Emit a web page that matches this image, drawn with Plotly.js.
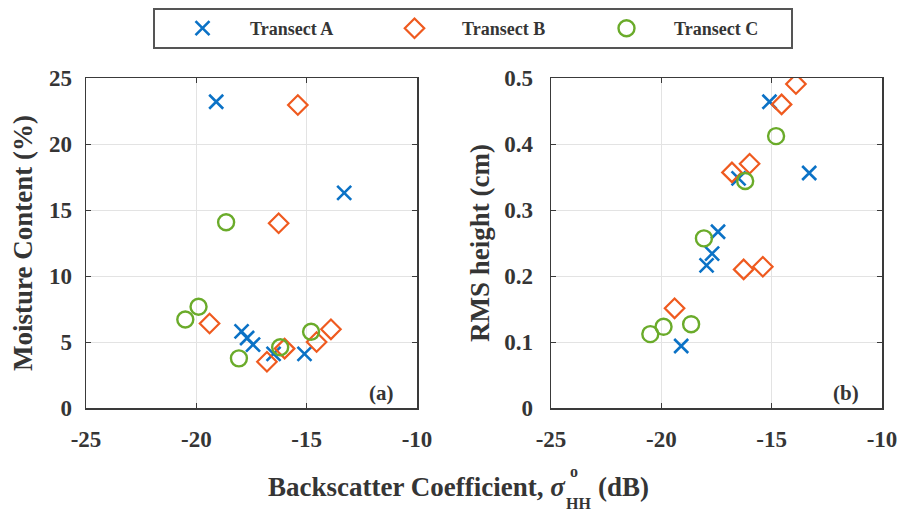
<!DOCTYPE html>
<html>
<head>
<meta charset="utf-8">
<script src="https://cdn.plot.ly/plotly-3.0.1.min.js"></script>
<style>html,body{margin:0;padding:0;background:#fff;}#chart{width:903px;height:513px;}</style>
</head>
<body>
<div id="chart"></div>
<script>
// Transect A
const aBackscatter = [-19.1, -17.95, -17.7, -17.43, -16.5, -15.1, -13.3];
const aMoisture    = [23.2, 5.8, 5.3, 4.8, 4.1, 4.1, 16.3];
const aRms         = [0.094, 0.216, 0.234, 0.267, 0.348, 0.464, 0.356];
// Transect B
const bBackscatter = [-19.4, -16.8, -16.27, -16.0, -15.4, -14.55, -13.9];
const bMoisture    = [6.4, 3.5, 14.0, 4.5, 22.95, 5.0, 5.96];
const bRms         = [0.151, 0.357, 0.21, 0.37, 0.214, 0.46, 0.491];
// Transect C
const cBackscatter = [-20.5, -19.9, -18.65, -18.07, -16.2, -14.8];
const cMoisture    = [6.7, 7.67, 14.07, 3.76, 4.6, 5.78];
const cRms         = [0.112, 0.123, 0.127, 0.257, 0.344, 0.412];

const seriesNames = ['Transect A', 'Transect B', 'Transect C'];
const xTickVals = [-25, -20, -15, -10];
const xTickText = ['-25', '-20', '-15', '-10'];
const yTickValsA = [0, 5, 10, 15, 20, 25];
const yTickValsB = [0, 0.1, 0.2, 0.3, 0.4, 0.5];
const yTickTextB = ['0', '0.1', '0.2', '0.3', '0.4', '0.5'];

const colA = '#0b72c6', colB = '#ef5a1f', colC = '#6aab2a';
const font = 'Liberation Serif, Times New Roman, serif';
const txt = '#353535';

const mA = {symbol: 'x-thin-open', size: 14, color: colA, line: {color: colA, width: 2.6}};
const mB = {symbol: 'diamond-open', size: 15, color: colB, line: {color: colB, width: 2.2}};
const mC = {symbol: 'circle-open', size: 16, color: colC, line: {color: colC, width: 2.4}};

const traces = [
  {x: aBackscatter, y: aMoisture, mode: 'markers', name: seriesNames[0], marker: mA, xaxis: 'x', yaxis: 'y'},
  {x: bBackscatter, y: bMoisture, mode: 'markers', name: seriesNames[1], marker: mB, xaxis: 'x', yaxis: 'y'},
  {x: cBackscatter, y: cMoisture, mode: 'markers', name: seriesNames[2], marker: mC, xaxis: 'x', yaxis: 'y'},
  {x: aBackscatter, y: aRms, mode: 'markers', name: seriesNames[0], marker: mA, xaxis: 'x2', yaxis: 'y2', showlegend: false},
  {x: bBackscatter, y: bRms, mode: 'markers', name: seriesNames[1], marker: mB, xaxis: 'x2', yaxis: 'y2', showlegend: false},
  {x: cBackscatter, y: cRms, mode: 'markers', name: seriesNames[2], marker: mC, xaxis: 'x2', yaxis: 'y2', showlegend: false}
];

const tickFont = {family: font, size: 23, color: txt, weight: 'bold'};
const titleFont = {family: font, size: 27, color: txt, weight: 'bold'};

const axisCommon = {
  showline: true, linecolor: '#3a3a3a', linewidth: 1.5, mirror: 'ticks',
  ticks: 'inside', ticklen: 5, tickcolor: '#3a3a3a', tickwidth: 1,
  showgrid: true, gridcolor: '#e3e3e3', gridwidth: 1, zeroline: false,
  tickfont: tickFont
};

const W = 903, plotTop = 78, plotBot = 408, plotH = plotBot - plotTop;
const px = v => v / W;
const py = v => (plotBot - v) / plotH;

const layout = {
  width: W, height: 513,
  margin: {l: 0, r: 0, t: plotTop, b: 513 - plotBot},
  paper_bgcolor: '#ffffff', plot_bgcolor: '#ffffff',
  font: {family: font, color: txt},
  showlegend: true,
  legend: {
    orientation: 'h', x: px(153), xanchor: 'left', y: py(8), yanchor: 'top',
    bordercolor: '#555', borderwidth: 2, bgcolor: '#fff',
    font: {family: font, size: 18, color: txt, weight: 'bold'},
    entrywidth: 112, entrywidthmode: 'pixels', itemwidth: 85
  },
  xaxis: Object.assign({}, axisCommon, {domain: [px(86), px(417)], range: [-25, -10], tickvals: xTickVals, ticktext: xTickText, anchor: 'y', ticklabelstandoff: 10}),
  yaxis: Object.assign({}, axisCommon, {domain: [0, 1], range: [0, 25], tickvals: yTickValsA, anchor: 'x', ticklabelstandoff: 8,
    title: {text: 'Moisture Content (%)', font: titleFont, standoff: 8}}),
  xaxis2: Object.assign({}, axisCommon, {domain: [px(551), px(882)], range: [-25, -10], tickvals: xTickVals, ticktext: xTickText, anchor: 'y2', ticklabelstandoff: 10}),
  yaxis2: Object.assign({}, axisCommon, {domain: [0, 1], range: [0, 0.5], tickvals: yTickValsB, ticktext: yTickTextB, anchor: 'x2', ticklabelstandoff: 12,
    title: {text: 'RMS height (cm)', font: titleFont, standoff: 6}}),
  annotations: [
    {text: '<b>(a)</b>', xref: 'paper', yref: 'paper', x: px(396), y: py(393), xanchor: 'right', yanchor: 'middle', showarrow: false, font: {family: font, size: 21, color: txt}},
    {text: '<b>(b)</b>', xref: 'paper', yref: 'paper', x: px(861), y: py(393), xanchor: 'right', yanchor: 'middle', showarrow: false, font: {family: font, size: 21, color: txt}},
    {text: 'Backscatter Coefficient, <i>σ</i>', xref: 'paper', yref: 'paper', x: px(568), y: py(487), xanchor: 'right', yanchor: 'middle', showarrow: false, font: {family: font, size: 27, color: txt, weight: 'bold'}},
    {text: 'o', xref: 'paper', yref: 'paper', x: px(568), y: py(471), xanchor: 'left', yanchor: 'middle', showarrow: false, font: {family: font, size: 16, color: txt, weight: 'bold'}},
    {text: 'HH', xref: 'paper', yref: 'paper', x: px(564), y: py(503), xanchor: 'left', yanchor: 'middle', showarrow: false, font: {family: font, size: 16, color: txt, weight: 'bold'}},
    {text: '(dB)', xref: 'paper', yref: 'paper', x: px(596), y: py(487), xanchor: 'left', yanchor: 'middle', showarrow: false, font: {family: font, size: 27, color: txt, weight: 'bold'}}
  ]
};

Plotly.newPlot('chart', traces, layout, {staticPlot: true, displayModeBar: false});
</script>
</body>
</html>
